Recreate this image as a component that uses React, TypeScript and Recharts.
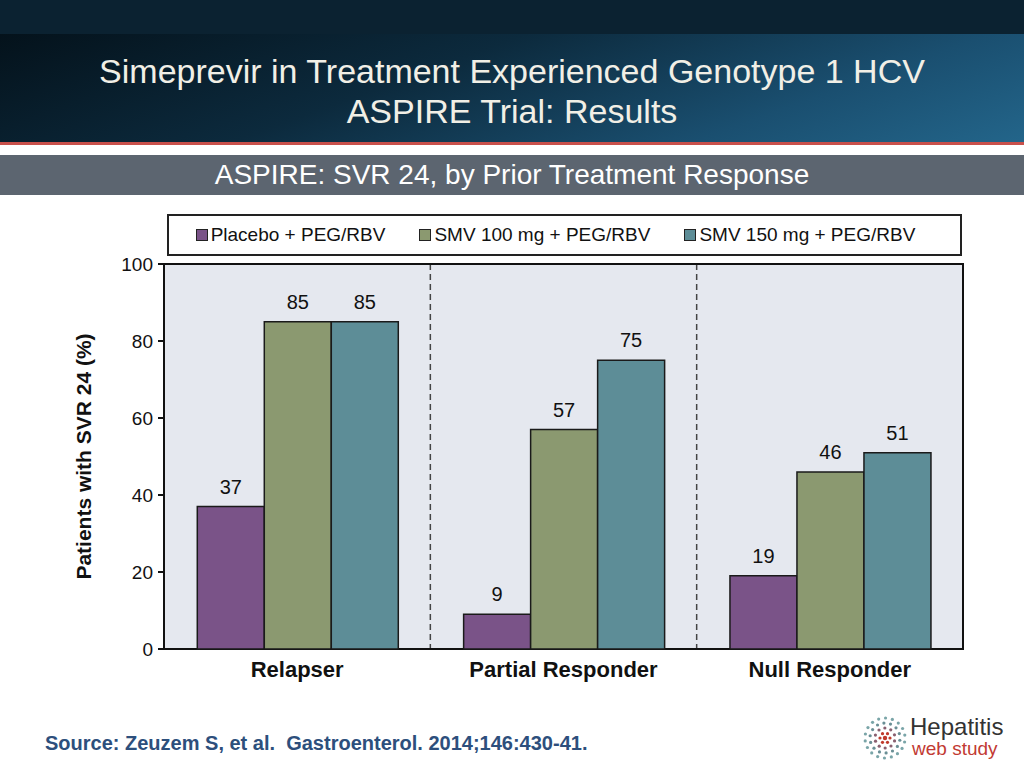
import React from "react";
import {
  BarChart,
  Bar,
  XAxis,
  YAxis,
  CartesianGrid,
  LabelList,
  ReferenceArea,
} from "recharts";

const categories = ["Relapser", "Partial Responder", "Null Responder"];
const placebo = [37, 9, 19];
const smv100 = [85, 57, 46];
const smv150 = [85, 75, 51];
const seriesKeys = ["placebo", "smv100", "smv150"];
const seriesNames = ["Placebo + PEG/RBV", "SMV 100 mg + PEG/RBV", "SMV 150 mg + PEG/RBV"];
const seriesColors = ["#7a5388", "#8b9970", "#5d8d97"];
const yTicks = [0, 20, 40, 60, 80, 100];

const data = categories.map((c, i) => ({
  name: c,
  placebo: placebo[i],
  smv100: smv100[i],
  smv150: smv150[i],
}));

const FONT = "'Liberation Sans', Arial, sans-serif";

const dotRing = () => {
  const dots: React.ReactElement[] = [];
  const rings = [
    { r: 5, n: 6, c: "#c0392b" },
    { r: 10, n: 10, c: "#8a6070" },
    { r: 15, n: 14, c: "#6a8f95" },
    { r: 20, n: 18, c: "#7aa5a8" },
  ];
  rings.forEach((ring, ri) => {
    for (let k = 0; k < ring.n; k++) {
      const a = (k / ring.n) * Math.PI * 2 + ri * 0.3;
      dots.push(
        <circle
          key={`${ri}-${k}`}
          cx={23 + ring.r * Math.cos(a)}
          cy={23 + ring.r * Math.sin(a)}
          r={1.6}
          fill={ring.c}
        />
      );
    }
  });
  dots.push(<circle key="c" cx={23} cy={23} r={2.2} fill="#c0392b" />);
  return dots;
};

export default function App() {
  return (
    <div
      style={{
        position: "absolute",
        left: 0,
        top: 0,
        width: 1024,
        height: 768,
        background: "#ffffff",
        overflow: "hidden",
        fontFamily: FONT,
      }}
    >
      {/* header */}
      <div style={{ position: "absolute", left: 0, top: 0, width: 1024, height: 34, background: "#0b2231" }} />
      <div
        style={{
          position: "absolute",
          left: 0,
          top: 34,
          width: 1024,
          height: 108,
          background: "linear-gradient(160deg, #04121b 0%, #0c2a3d 40%, #1a4f70 75%, #23658a 100%)",
        }}
      />
      <div style={{ position: "absolute", left: 0, top: 142, width: 1024, height: 3, background: "#c9504b" }} />
      <div style={{ position: "absolute", left: 0, top: 145, width: 1024, height: 10, background: "#ffffff" }} />
      <div style={{ position: "absolute", left: 0, top: 155, width: 1024, height: 40, background: "#5c6570" }} />
      <div
        style={{
          position: "absolute",
          left: 0,
          top: 51,
          width: 1024,
          textAlign: "center",
          color: "#f1efe6",
          fontSize: 34,
          lineHeight: "40px",
        }}
      >
        Simeprevir in Treatment Experienced Genotype 1 HCV
        <br />
        ASPIRE Trial: Results
      </div>
      <div
        style={{
          position: "absolute",
          left: 0,
          top: 158,
          width: 1024,
          textAlign: "center",
          color: "#ffffff",
          fontSize: 28,
          lineHeight: "34px",
        }}
      >
        ASPIRE: SVR 24, by Prior Treatment Response
      </div>

      {/* legend */}
      <div
        style={{
          position: "absolute",
          top: 214,
          left: 167,
          width: 795,
          height: 42,
          boxSizing: "border-box",
          border: "2px solid #222",
          background: "#ffffff",
          display: "flex",
          justifyContent: "center",
          alignItems: "center",
          fontSize: 19,
          color: "#111",
          gap: 34,
          paddingRight: 18,
        }}
      >
        {seriesNames.map((n, i) => (
          <div key={n} style={{ display: "flex", alignItems: "center" }}>
            <span
              style={{
                display: "inline-block",
                width: 10,
                height: 10,
                background: seriesColors[i],
                border: "1px solid #222",
                marginRight: 3,
              }}
            />
            <span>{n}</span>
          </div>
        ))}
      </div>

      {/* chart */}
      <div style={{ position: "absolute", left: 0, top: 0 }}>
        <BarChart
          width={1024}
          height={768}
          data={data}
          margin={{ top: 264, right: 61, bottom: 89, left: 104 }}
          barCategoryGap="12.5%"
          barGap={0}
        >
          <CartesianGrid
            fill="#e5e8ef"
            horizontal={false}
            stroke="#444"
            strokeDasharray="6 4"
            strokeWidth={1.5}
            verticalCoordinatesGenerator={({ offset }: any) => [
              offset.left + offset.width / 3,
              offset.left + (2 * offset.width) / 3,
            ]}
          />
          <XAxis
            xAxisId="bnd"
            type="number"
            domain={[0, 3]}
            ticks={[0, 1, 2, 3]}
            tick={false}
            height={0}
            tickSize={6}
            allowDataOverflow
            axisLine={{ stroke: "#111", strokeWidth: 2 }}
            tickLine={{ stroke: "#111", strokeWidth: 2 }}
          />
          <XAxis
            dataKey="name"
            axisLine={false}
            tickLine={false}
            tickSize={0}
            tickMargin={12}
            height={30}
            tick={{ fontSize: 22, fontWeight: "bold", fill: "#111", fontFamily: FONT }}
          />
          <YAxis
            domain={[0, 100]}
            ticks={yTicks}
            width={60}
            tickSize={6}
            tickMargin={5}
            axisLine={{ stroke: "#111", strokeWidth: 2 }}
            tickLine={{ stroke: "#111", strokeWidth: 2 }}
            tick={{ fontSize: 19, fill: "#111", fontFamily: FONT }}
            label={{
              value: "Patients with SVR 24 (%)",
              angle: -90,
              position: "insideLeft",
              dx: -25,
              dy: 0,
              style: { fontSize: 21, fontWeight: "bold", fill: "#111", fontFamily: FONT, textAnchor: "middle" },
            }}
          />
          <ReferenceArea y1={0} y2={100} fill="none" stroke="#111" strokeWidth={2} ifOverflow="visible" />
          {seriesKeys.map((k, i) => (
            <Bar
              key={k}
              dataKey={k}
              name={seriesNames[i]}
              fill={seriesColors[i]}
              stroke="#1a1a1a"
              strokeWidth={1.5}
              isAnimationActive={false}
            >
              <LabelList dataKey={k} position="top" offset={13} style={{ fontSize: 20, fill: "#111", fontFamily: FONT }} />
            </Bar>
          ))}
        </BarChart>
      </div>

      {/* footer */}
      <div
        style={{
          position: "absolute",
          left: 45,
          top: 732,
          color: "#2d4f7c",
          fontSize: 20,
          fontWeight: "bold",
        }}
      >
        Source: Zeuzem S, et al.&nbsp; Gastroenterol. 2014;146:430-41.
      </div>
      <svg style={{ position: "absolute", left: 862, top: 715 }} width={46} height={46}>
        {dotRing()}
      </svg>
      <div style={{ position: "absolute", left: 910, top: 713, color: "#333", fontSize: 24, lineHeight: "28px" }}>
        Hepatitis
      </div>
      <div style={{ position: "absolute", left: 912, top: 738, color: "#c23a33", fontSize: 19, lineHeight: "22px" }}>
        web study
      </div>
    </div>
  );
}
